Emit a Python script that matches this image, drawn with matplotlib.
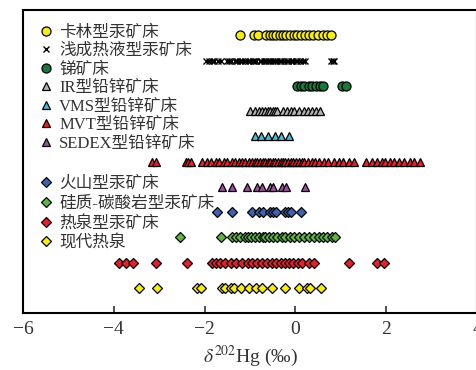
import matplotlib
matplotlib.use("Agg")
import matplotlib.pyplot as plt

plt.rcParams["font.family"] = ["Liberation Serif", "Noto Sans CJK SC"]
plt.rcParams["mathtext.fontset"] = "stix"

# delta202Hg values, one list per deposit type
carlin = [-1.21, -0.92, -0.83, -0.64, -0.57, -0.50, -0.42, -0.35, -0.27, -0.20,
          -0.12, -0.04, 0.03, 0.12, 0.22, 0.30, 0.38, 0.50, 0.60, 0.70, 0.78]
epithermal = [-1.96, -1.91, -1.83, -1.79, -1.70, -1.63, -1.51, -1.46, -1.41, -1.33,
              -1.29, -1.21, -1.17, -1.10, -1.04, -1.01, -0.94, -0.91, -0.86, -0.79,
              -0.76, -0.70, -0.64, -0.61, -0.55, -0.49, -0.46, -0.40, -0.34, -0.31,
              -0.25, -0.19, -0.16, -0.09, -0.05, 0.01, 0.04, 0.11, 0.16, 0.22,
              0.78, 0.82, 0.86]
antimony = [0.03, 0.12, 0.20, 0.30, 0.37, 0.46, 0.54, 0.61, 1.02, 1.12]
ir_type = [-1.00, -0.90, -0.80, -0.74, -0.68, -0.60, -0.55, -0.50, -0.46, -0.40,
           -0.28, -0.18, -0.10, -0.04, 0.08, 0.18, 0.27, 0.36, 0.46, 0.55]
vms = [-0.90, -0.75, -0.60, -0.46, -0.31, -0.13]
mvt = [-3.15, -3.06, -2.42, -2.36, -2.30, -2.05, -1.95, -1.85, -1.75, -1.68,
       -1.58, -1.50, -1.40, -1.32, -1.25, -1.18, -1.10, -1.02, -0.96, -0.90,
       -0.84, -0.78, -0.72, -0.66, -0.60, -0.55, -0.50, -0.44, -0.38, -0.32,
       -0.27, -0.22, -0.16, -0.10, -0.05, 0.02, 0.08, 0.14, 0.20, 0.28,
       0.36, 0.44, 0.52, 0.62, 0.72, 0.84, 0.95, 1.04, 1.19, 1.30,
       1.55, 1.68, 1.80, 1.90, 1.98, 2.08, 2.18, 2.28, 2.40, 2.52, 2.62, 2.75]
sedex = [-1.62, -1.39, -1.07, -0.84, -0.74, -0.57, -0.50, -0.29, -0.20, 0.22]
volcanic = [-1.73, -1.39, -0.95, -0.80, -0.72, -0.57, -0.49, -0.42, -0.24, -0.17,
            -0.09, 0.13]
siliceous = [-2.54, -1.63, -1.39, -1.30, -1.22, -1.12, -1.05, -0.97, -0.88, -0.80,
             -0.72, -0.66, -0.58, -0.50, -0.40, -0.30, -0.22, -0.12, -0.02, 0.08,
             0.20, 0.30, 0.40, 0.52, 0.60, 0.70, 0.80, 0.88]
hotspring_hg = [-3.89, -3.74, -3.58, -3.07, -2.38, -1.83, -1.75, -1.66, -1.55, -1.42,
                -1.30, -1.18, -1.05, -0.95, -0.85, -0.74, -0.62, -0.52, -0.42, -0.32,
                -0.24, -0.15, -0.05, 0.05, 0.15, 0.30, 0.42, 1.19, 1.79, 1.96]
modern_spring = [-3.44, -3.05, -2.16, -2.08, -1.62, -1.55, -1.41, -1.35, -1.19, -1.02,
                 -0.86, -0.73, -0.51, -0.24, 0.09, 0.25, 0.33, 0.57]

labels_top = ["卡林型汞矿床", "浅成热液型汞矿床", "锑矿床", "IR型铅锌矿床",
              "VMS型铅锌矿床", "MVT型铅锌矿床", "SEDEX型铅锌矿床"]
labels_bottom = ["火山型汞矿床", "硅质-碳酸岩型汞矿床", "热泉型汞矿床", "现代热泉"]

series = [carlin, epithermal, antimony, ir_type, vms, mvt, sedex,
          volcanic, siliceous, hotspring_hg, modern_spring]
styles = [("o", "#f7ec13"), ("x", "black"), ("o", "#157a3a"), ("^", "#b3b3b3"),
          ("^", "#4bb9d4"), ("^", "#e5202a"), ("^", "#9b4f9c"),
          ("D", "#3b63b0"), ("D", "#5cb83c"), ("D", "#e5202a"), ("D", "#f7ec13")]
sizes = {"o": 6.5, "x": 5, "^": 6.3, "D": 5.5}

fig = plt.figure(figsize=(4.76, 3.70), dpi=100)
ax = fig.add_axes([23 / 476, 57 / 370, 454 / 476, 303 / 370])

handles = []
for i, (vals, (m, c)) in enumerate(zip(series, styles)):
    row = 11 - i
    if m == "x":
        h, = ax.plot(vals, [row] * len(vals), ls="none", marker=m, color="black",
                     markersize=sizes[m], mew=1.0)
    else:
        h, = ax.plot(vals, [row] * len(vals), ls="none", marker=m, mfc=c, mec="black",
                     markersize=sizes[m], mew=0.9)
    handles.append(h)

ax.set_xlim(-6, 4)
ax.set_ylim(0, 12)
ax.set_xticks([-6, -4, -2, 0, 2, 4])
ax.set_xticklabels(["\u22126", "\u22124", "\u22122", "0", "2", "4"])
ax.set_yticks([])
ax.tick_params(axis="x", direction="in", length=5, width=1.2, labelsize=14,
               pad=6, colors="#333333", labelcolor="#333333")
for s in ax.spines.values():
    s.set_linewidth(1.5)
ax.set_xlabel(r"$\delta^{202}$Hg (‰)", fontsize=14, color="#333333", labelpad=4)

leg1 = ax.legend(handles[:7], labels_top, loc="upper left", bbox_to_anchor=(0.01, 0.985),
                 frameon=False, fontsize=12, handlelength=1.0, handletextpad=0.3,
                 labelspacing=0.15, borderaxespad=0.2, labelcolor="#333333")
ax.add_artist(leg1)
ax.legend(handles[7:], labels_bottom, loc="upper left", bbox_to_anchor=(0.01, 0.485),
          frameon=False, fontsize=12, handlelength=1.0, handletextpad=0.3,
          labelspacing=0.22, borderaxespad=0.2, labelcolor="#333333")

fig.savefig("out.png", dpi=100)
